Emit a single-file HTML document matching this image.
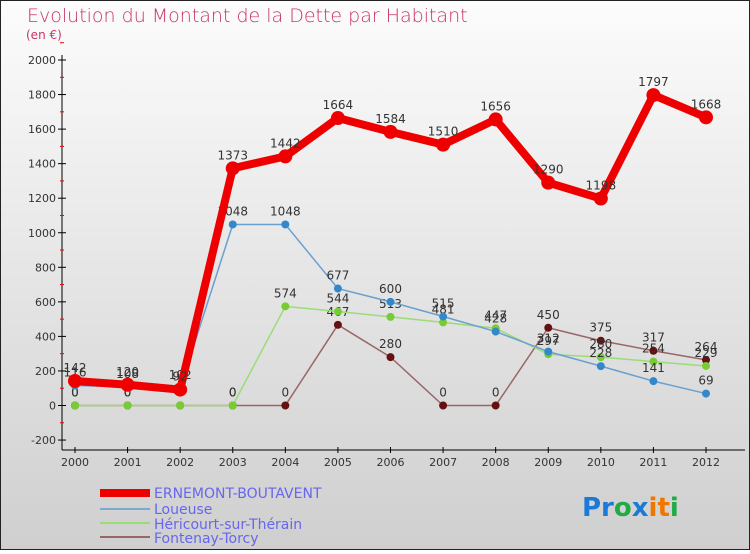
<!DOCTYPE html>
<html><head><meta charset="utf-8"><style>
body{margin:0;width:750px;height:550px;overflow:hidden;font-family:"DejaVu Sans","Liberation Sans",sans-serif}
</style></head><body>
<svg width="750" height="550" viewBox="0 0 750 550" xmlns="http://www.w3.org/2000/svg">
<defs><linearGradient id="bg" x1="0" y1="0" x2="0" y2="1"><stop offset="0" stop-color="#fcfcfc"/><stop offset="1" stop-color="#cfcfcf"/></linearGradient></defs>
<rect x="0.5" y="0.5" width="749" height="549" fill="url(#bg)" stroke="#222"/>
<text x="27" y="22" font-size="19" fill="#c8336a" font-weight="200">Evolution du Montant de la Dette par Habitant</text>
<text x="26" y="39" font-size="12" fill="#c8336a">(en €)</text>
<g id="axes"></g>
<g id="series"></g>
<g font-size="14" fill="#6666ee">
<rect x="100" y="489" width="50" height="8" fill="#e00"/>
<text x="154" y="498">ERNEMONT-BOUTAVENT</text>
<line x1="100" y1="509" x2="150" y2="509" stroke="#7aaad0" stroke-width="2"/>
<text x="154" y="514">Loueuse</text>
<line x1="100" y1="523" x2="150" y2="523" stroke="#99dd77" stroke-width="2"/>
<text x="154" y="529">Héricourt-sur-Thérain</text>
<line x1="100" y1="537" x2="150" y2="537" stroke="#996666" stroke-width="2"/>
<text x="154" y="543">Fontenay-Torcy</text>
</g>
<text x="582" y="516" font-size="26" font-weight="bold"><tspan fill="#1a7ad8">Pr</tspan><tspan fill="#22aa44">o</tspan><tspan fill="#1a7ad8">x</tspan><tspan fill="#ee7700">it</tspan><tspan fill="#22aa44">i</tspan></text>
</svg>
<script>
const years=["2000","2001","2002","2003","2004","2005","2006","2007","2008","2009","2010","2011","2012"];
const yTicks=[-200,0,200,400,600,800,1000,1200,1400,1600,1800,2000];
const ernemont=[142,120,92,1373,1442,1664,1584,1510,1656,1290,1198,1797,1668];
const loueuse=[116,108,102,1048,1048,677,600,515,428,312,228,141,69];
const hericourt=[0,0,0,0,574,544,513,481,447,297,280,254,229];
const fontenay=[0,0,0,0,0,467,280,0,0,450,375,317,264];
const NS="http://www.w3.org/2000/svg";
const X=i=>75+i*(706-75)/12;
const Y=v=>405.5-v*(345.5/2000);
function mk(t,a,p){const e=document.createElementNS(NS,t);for(const k in a)e.setAttribute(k,a[k]);p.appendChild(e);return e;}
const ax=document.getElementById('axes');
let e=mk('line',{x1:62,y1:55,x2:62,y2:450,stroke:'#000'},ax);


e=mk('line',{x1:62,y1:450,x2:745,y2:450,stroke:'#000'},ax);


yTicks.forEach(v=>{
 mk('line',{x1:58,y1:Y(v),x2:66,y2:Y(v),stroke:'#000'},ax);
 mk('line',{x1:60,y1:Y(v+100),x2:64,y2:Y(v+100),stroke:'#e00'},ax);
 const t=mk('text',{x:56,y:Y(v)+4,'text-anchor':'end','font-size':11,fill:'#333'},ax);
 t.textContent=v;
 
 
});
years.forEach((y,i)=>{
 mk('line',{x1:X(i),y1:447,x2:X(i),y2:453,stroke:'#000'},ax);
 const t=mk('text',{x:X(i),y:466,'text-anchor':'middle','font-size':11,fill:'#333'},ax);
 t.textContent=y;
 
 
});
const sg=document.getElementById('series');
function series(d,name,col,dot,w,r){
 const g=mk('g',{},sg);
 
 
 mk('polyline',{points:d.map((v,i)=>X(i)+','+Y(v)).join(' '),fill:'none',stroke:col,'stroke-width':w,'stroke-linejoin':'round'},g);
 d.forEach((v,i)=>{
  const c=mk('circle',{cx:X(i),cy:Y(v),r:r,fill:dot},g);
  
  
  const t=mk('text',{x:X(i),y:Y(v)-9,'text-anchor':'middle','font-size':12,fill:'#333'},g);
  t.textContent=v;
 });
}
series(fontenay,'fontenay-series','#996666','#661111',1.5,4);
series(hericourt,'hericourt-series','#99dd77','#77cc33',1.5,4);
series(loueuse,'loueuse-series','#6aa0d0','#3388cc',1.5,4);
series(ernemont,'ernemont-series','#ee0000','#ee0000',8,7);
</script>
</body></html>
